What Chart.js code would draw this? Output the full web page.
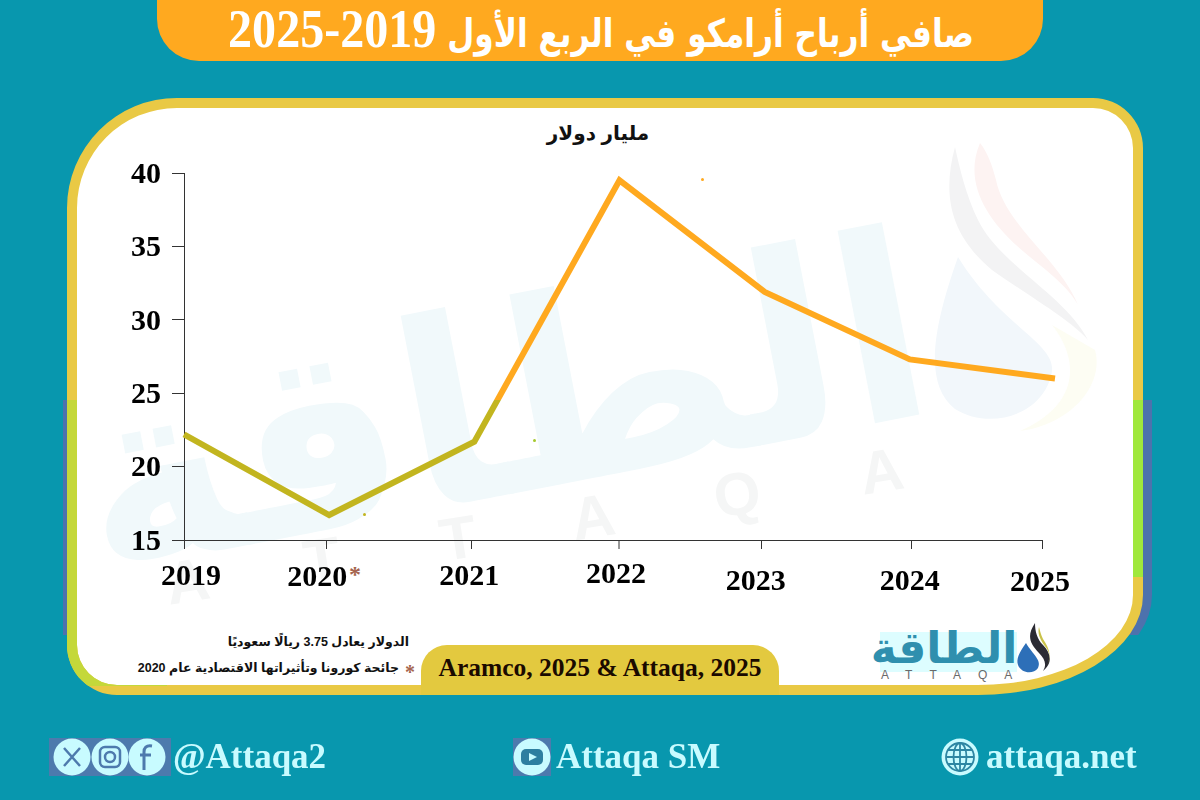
<!DOCTYPE html>
<html lang="ar">
<head>
<meta charset="utf-8">
<title>صافي أرباح أرامكو</title>
<script src="https://cdn.jsdelivr.net/npm/chart.js@4/dist/chart.umd.min.js"></script>
<style>
  html, body { margin: 0; padding: 0; }
  body { width: 1200px; height: 800px; background: #0897ae; position: relative; overflow: hidden; }
  .abs { position: absolute; }
  .serif { font-family: "Liberation Serif", serif; font-weight: bold; }
  .arabic { font-family: "Liberation Sans", "DejaVu Sans", sans-serif; font-weight: bold; white-space: nowrap; }
  #titleBar { left: 157px; top: -40px; width: 886px; height: 101px; background: #ffa91f; border-radius: 0 0 42px 42px; }
  #title { left: 101px; top: 0; width: 1000px; height: 58px; line-height: 58px; text-align: center; color: #fff; direction: rtl;
    font-family: "DejaVu Sans Condensed", "DejaVu Sans", sans-serif; font-weight: bold; font-size: 39px; white-space: nowrap; transform: scaleX(0.89); }
  #title span { font-family: "Liberation Serif", serif; font-size: 54px; }
  .shape { left: 67px; top: 98px; width: 1056px; height: 577px; border: 10px solid #e9c945;
    border-radius: 110px 50px 165px 50px / 110px 50px 100px 50px; }
  #panel { background: #fff; }
  #fringe { left: 63px; top: 98px; width: 1089px; height: 597px; background: #4d72ad; clip-path: inset(302px 0 60px 0);
    border-radius: 110px 50px 165px 50px / 110px 50px 100px 50px; }
  #limeL { border-color: #c4d83a; clip-path: inset(302px 976px 9px 0); }
  #limeR { border-color: #a0e83c; clip-path: inset(302px 0 118px 976px); }
  #sourceTab { left: 421px; top: 645px; width: 358px; height: 50px; background: #e3c93f; border-radius: 26px 26px 0 0; }
  #source { left: 421px; top: 648px; width: 358px; height: 40px; line-height: 40px; text-align: center; font-size: 25.5px; color: #1a0a00; white-space: nowrap; }
  #unit { left: 498px; top: 118px; width: 200px; text-align: center; font-size: 20px; line-height: 30px; color: #111; direction: rtl; }
  #note1 { right: 791px; top: 633px; font-size: 12.5px; line-height: 18px; color: #111; direction: rtl; }
  #note2 { right: 801px; top: 659px; font-size: 12.5px; line-height: 18px; color: #111; direction: rtl; }
  #noteStar { left: 405px; top: 662px; font-size: 20px; line-height: 20px; color: #a5644e; }
  #star2020 { left: 349px; top: 562px; font-size: 24px; line-height: 24px; color: #a5644e; }
  #chartCanvas { position: absolute; left: 0; top: 0; }
  .foot { color: #c8fbff; font-size: 35px; line-height: 40px; top: 737px; white-space: nowrap; }
  .speck { width: 3px; height: 3px; border-radius: 50%; }
  #wmText { left: 62px; top: 205px; width: 880px; text-align: center; color: #f1f9fb; font-family: "DejaVu Sans", sans-serif; font-weight: bold;
    font-size: 258px; line-height: 400px; transform: rotate(-11deg); white-space: nowrap; direction: rtl; }
  #wmLatin { left: 166px; top: 550px; color: #f5f6f6; font-family: "Liberation Sans", sans-serif; font-weight: bold;
    font-size: 60px; line-height: 70px; letter-spacing: 101px; transform: rotate(-9deg); transform-origin: left center; white-space: nowrap; }
  #logoGlow { left: 880px; top: 632px; width: 137px; height: 40px; background: #ddfdff; }
  #logoText { left: 863px; top: 615px; width: 162px; text-align: center; font-family: "DejaVu Sans", sans-serif; font-weight: bold;
    font-size: 44px; line-height: 66px; color: #2f8fae; direction: rtl; white-space: nowrap; }
  #logoLatin { left: 881px; top: 668px; font-family: "Liberation Sans", sans-serif; font-size: 12px; line-height: 14px; letter-spacing: 17px; color: #6a6a6a; white-space: nowrap; }
</style>
</head>
<body>
<div class="abs" id="titleBar"></div>
<div class="abs" id="title">صافي أرباح أرامكو في الربع الأول <span>2019-2025</span></div>

<div class="abs" id="fringe"></div>
<div class="abs shape" id="panel"></div>
<div class="abs shape" id="limeL"></div>
<div class="abs shape" id="limeR"></div>

<div class="abs" id="wmText">الطاقة</div>
<div class="abs" id="wmLatin">ATTAQA</div>
<svg class="abs" style="left:930px;top:135px" width="180" height="300" viewBox="0 0 180 300">
  <path d="M25 12 C12 60 20 100 62 135 C105 165 140 185 158 205 C135 160 70 130 48 85 C36 60 30 35 25 12Z" fill="#f3f3f4"/>
  <path d="M50 8 C32 50 60 90 100 122 C125 142 140 155 148 170 C130 125 75 90 66 45 C62 30 58 18 50 8Z" fill="#fdf3f2"/>
  <path d="M28 122 C2 195 -6 250 25 274 C60 296 115 280 122 236 C125 208 70 190 28 122Z" fill="#f2f7fb"/>
  <path d="M122 190 C150 225 150 270 90 296 C140 290 175 250 165 215 Z" fill="#fdfdf3"/>
</svg>

<div class="abs arabic" id="unit">مليار دولار</div>
<div class="abs arabic" id="note1">الدولار يعادل 3.75 ريالًا سعوديًا</div>
<div class="abs arabic" id="note2">جائحة كورونا وتأثيراتها الاقتصادية عام 2020</div>
<div class="abs serif" id="noteStar">*</div>
<div class="abs serif" id="star2020">*</div>
<div class="abs speck" style="left:363px;top:513px;background:#c2b51f"></div>
<div class="abs speck" style="left:533px;top:439px;background:#a5c92f"></div>
<div class="abs speck" style="left:701px;top:178px;background:#ffa91f"></div>

<div class="abs" id="sourceTab"></div>
<div class="abs serif" id="source">Aramco, 2025 &amp; Attaqa, 2025</div>

<div class="abs" id="logoGlow"></div>
<div class="abs" id="logoText">الطاقة</div>
<div class="abs" id="logoLatin">ATTAQA</div>
<svg class="abs" style="left:1015px;top:621px" width="36" height="54" viewBox="0 0 36 54">
  <path d="M20 2 C12 14 14 22 24 32 C30 38 32 44 28 50 C38 42 36 32 28 24 C22 18 20 10 20 2Z" fill="#2b2b33"/>
  <path d="M24 6 C22 14 26 20 32 28 C36 34 34 40 32 44 C38 34 32 24 28 18 C26 14 25 10 24 6Z" fill="#c9c24a"/>
  <path d="M11 22 C4 32 1 38 3 44 C6 52 18 54 23 47 C27 39 18 34 11 22Z" fill="#2d6fb8"/>
</svg>

<canvas id="chartCanvas" width="1200" height="800"></canvas>

<svg class="abs" style="left:49px;top:738px" width="122" height="38" viewBox="0 0 122 38">
  <rect width="122" height="38" fill="#4d7aad"/>
  <circle cx="23" cy="19" r="18.5" fill="#c8fbff"/><circle cx="61" cy="19" r="18.5" fill="#c8fbff"/><circle cx="98" cy="19" r="18.5" fill="#c8fbff"/>
  <path d="M15 10 L31 28 M31 10 L15 28" stroke="#4d7aad" stroke-width="2.5"/>
  <rect x="51" y="9" width="20" height="20" rx="5" fill="none" stroke="#4d7aad" stroke-width="2.5"/>
  <circle cx="61" cy="19" r="5" fill="none" stroke="#4d7aad" stroke-width="2.5"/>
  <path d="M103 8 C97 7 95 10 95 14 L95 32 M91 17 L102 17" fill="none" stroke="#4d7aad" stroke-width="3"/>
</svg>
<div class="abs serif foot" style="left:173px">@Attaqa2</div>
<svg class="abs" style="left:513px;top:738px" width="38" height="38" viewBox="0 0 38 38">
  <rect width="38" height="38" fill="#4d7aad"/>
  <circle cx="19" cy="19" r="18.5" fill="#c8fbff"/>
  <rect x="8" y="11" width="22" height="16" rx="5" fill="#2d7fa0"/>
  <path d="M16 15 L24 19 L16 23Z" fill="#c8fbff"/>
</svg>
<div class="abs serif foot" style="left:556px">Attaqa SM</div>
<svg class="abs" style="left:941px;top:738px" width="38" height="38" viewBox="0 0 38 38">
  <circle cx="19" cy="19" r="18.5" fill="#c8fbff"/>
  <g fill="none" stroke="#2d86a3" stroke-width="1.8">
    <circle cx="19" cy="19" r="14"/><ellipse cx="19" cy="19" rx="6.5" ry="14"/>
    <path d="M19 5 V33 M5 19 H33 M7 12 H31 M7 26 H31"/>
  </g>
</svg>
<div class="abs serif foot" style="left:986px">attaqa.net</div>

<script>
const years = ['2019', '2020', '2021', '2022', '2023', '2024', '2025'];
const netProfit = [22.2, 16.7, 21.7, 39.5, 31.9, 27.3, 26.0];

const yMin = 15;
const yMax = 40;
const yStep = 5;

// the original artwork has its ticks and year labels slightly off the even grid
const tickNudgeX = [0, -3, -3, -0.5, -3, 2, -13];
const labelNudgeX = [7, -12, -5, -3.5, -9, 0, -15];
const labelNudgeY = [0, 1, 0, -2, 5, 5, 6];
const valueLabelNudgeY = 2;

const axisColor = '#333333';
const tickFont = { family: '"Liberation Serif", serif', weight: 'bold', size: 30 };

const artworkAxes = {
  id: 'artworkAxes',
  beforeDraw(chart) {
    const xs = chart.scales.x;
    xs._gridLineItems = xs._computeGridLineItems(chart.chartArea);
    xs._gridLineItems.forEach((item, i) => {
      item.tx1 += tickNudgeX[i];
      item.tx2 += tickNudgeX[i];
      item.x1 += tickNudgeX[i];
      item.x2 += tickNudgeX[i];
    });
    xs.getLabelItems(chart.chartArea).forEach((item, i) => {
      item.options.translation[0] += labelNudgeX[i];
      item.options.translation[1] += labelNudgeY[i];
    });
    chart.scales.y.getLabelItems(chart.chartArea).forEach((item) => {
      item.options.translation[1] += valueLabelNudgeY;
    });
  },
  afterDraw(chart) {
    // base line stops at the last tick, not at the last point
    const xs = chart.scales.x;
    const y = chart.chartArea.bottom;
    const c = chart.ctx;
    c.save();
    c.strokeStyle = axisColor;
    c.lineWidth = 1;
    c.beginPath();
    c.moveTo(xs.left, y + 0.5);
    c.lineTo(xs.getPixelForTick(years.length - 1) + tickNudgeX[years.length - 1], y + 0.5);
    c.stroke();
    c.restore();
  }
};

function lineStroke(context) {
  const g = context.chart.ctx.createLinearGradient(0, 0, 0, 800);
  g.addColorStop(0, '#ffa91f');
  g.addColorStop(0.5, '#ffa91f');
  g.addColorStop(0.5, '#c2b51f');
  g.addColorStop(1, '#c2b51f');
  return g;
}

new Chart(document.getElementById('chartCanvas'), {
  type: 'line',
  data: {
    labels: years,
    datasets: [{
      label: 'صافي أرباح أرامكو',
      data: netProfit,
      borderColor: lineStroke,
      borderWidth: 6,
      pointRadius: 0,
      tension: 0,
      clip: false
    }]
  },
  options: {
    responsive: false,
    animation: false,
    layout: { autoPadding: false, padding: { left: 124, right: 145, top: 173, bottom: 200 } },
    plugins: { legend: { display: false }, tooltip: { enabled: false } },
    scales: {
      x: {
        type: 'category',
        offset: false,
        afterFit(scale) { scale.height = 60; },
        border: { display: false },
        grid: { display: true, drawOnChartArea: false, tickLength: 9, color: axisColor },
        ticks: { color: '#000', font: tickFont, padding: 10, maxRotation: 0, autoSkip: false }
      },
      y: {
        min: yMin,
        max: yMax,
        afterFit(scale) { scale.width = 60; },
        border: { display: true, color: axisColor },
        grid: { display: true, drawOnChartArea: false, tickLength: 12, color: axisColor },
        ticks: { color: '#000', font: tickFont, stepSize: yStep, padding: 11 }
      }
    }
  },
  plugins: [artworkAxes]
});
</script>
</body>
</html>
